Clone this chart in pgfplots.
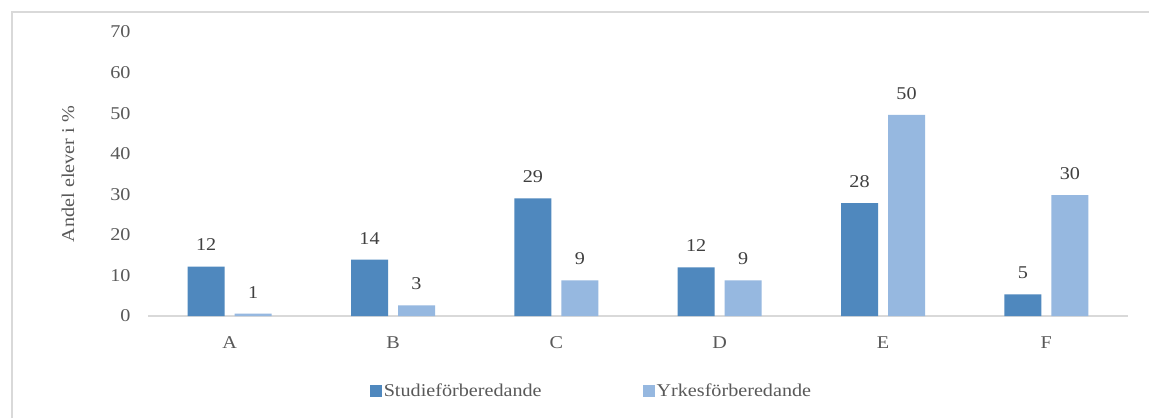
\documentclass[border=0pt]{standalone}
\usepackage{fontspec}
\setmainfont{Liberation Serif}[FakeStretch=1.12]
\usepackage{pgfplots}
\pgfplotsset{compat=1.18}
\definecolor{darkbar}{RGB}{79,136,190}
\definecolor{lightbar}{RGB}{150,184,224}
\definecolor{ticktxt}{RGB}{89,89,89}
\definecolor{labtxt}{RGB}{64,64,64}
\definecolor{axisgray}{RGB}{217,217,217}
\begin{document}
\begin{tikzpicture}[x=1pt,y=1pt]
\useasboundingbox (0,0) rectangle (1149,418);
\fill[white] (0,0) rectangle (1149,418);
\draw[axisgray, line width=1.5pt] (12,0) -- (12,406) -- (1149,406);
\begin{axis}[
  at={(148pt,102pt)}, anchor=south west,
  scale only axis, width=980pt, height=284pt,
  xmin=-0.5, xmax=5.5, ymin=0, ymax=70,
  xtick={0,1,2,3,4,5}, xticklabels={A,B,C,D,E,F},
  ytick={0,10,...,70},
  axis lines*=left,
  y axis line style={draw=none},
  x axis line style={draw=axisgray, line width=2pt},
  major tick length=0pt,
  tick style={draw=none},
  font=\fontsize{18}{21}\selectfont,
  ticklabel style={text=ticktxt, font=\fontsize{18}{21}\selectfont},
  /pgf/number format/assume math mode=true,
  yticklabel style={xshift=-14pt},
  xticklabel style={yshift=-17pt},
  ylabel={Andel elever i \%},
  every axis y label/.style={at={(axis description cs:-0.0816,0.5)}, rotate=90, anchor=center, text=ticktxt},
  ybar=10pt, bar width=37pt,
  nodes near coords={\pgfmathprintnumber[fixed,precision=0]{\pgfplotspointmeta}},
  every node near coord/.append style={text=labtxt, font=\fontsize{18}{21}\selectfont, anchor=south, yshift=12pt},
  legend columns=2,
  legend style={at={(axis description cs:0.4525,-0.264)}, anchor=center, draw=none, fill=none,
    text=ticktxt, font=\fontsize{18}{21}\selectfont,
    /tikz/every even column/.append style={column sep=99pt}},
  legend image code/.code={\fill[#1] (0pt,-6pt) rectangle (12pt,6pt);},
  legend cell align=left,
]
\addplot[fill=darkbar, draw=none] coordinates {(0,12.2) (1,13.9) (2,29.0) (3,12.0) (4,27.8) (5,5.3)};
\addplot[fill=lightbar, draw=none] coordinates {(0,0.6) (1,2.6) (2,8.8) (3,8.8) (4,49.6) (5,29.8)};
\legend{Studieförberedande, Yrkesförberedande}
\end{axis}
\end{tikzpicture}
\end{document}
